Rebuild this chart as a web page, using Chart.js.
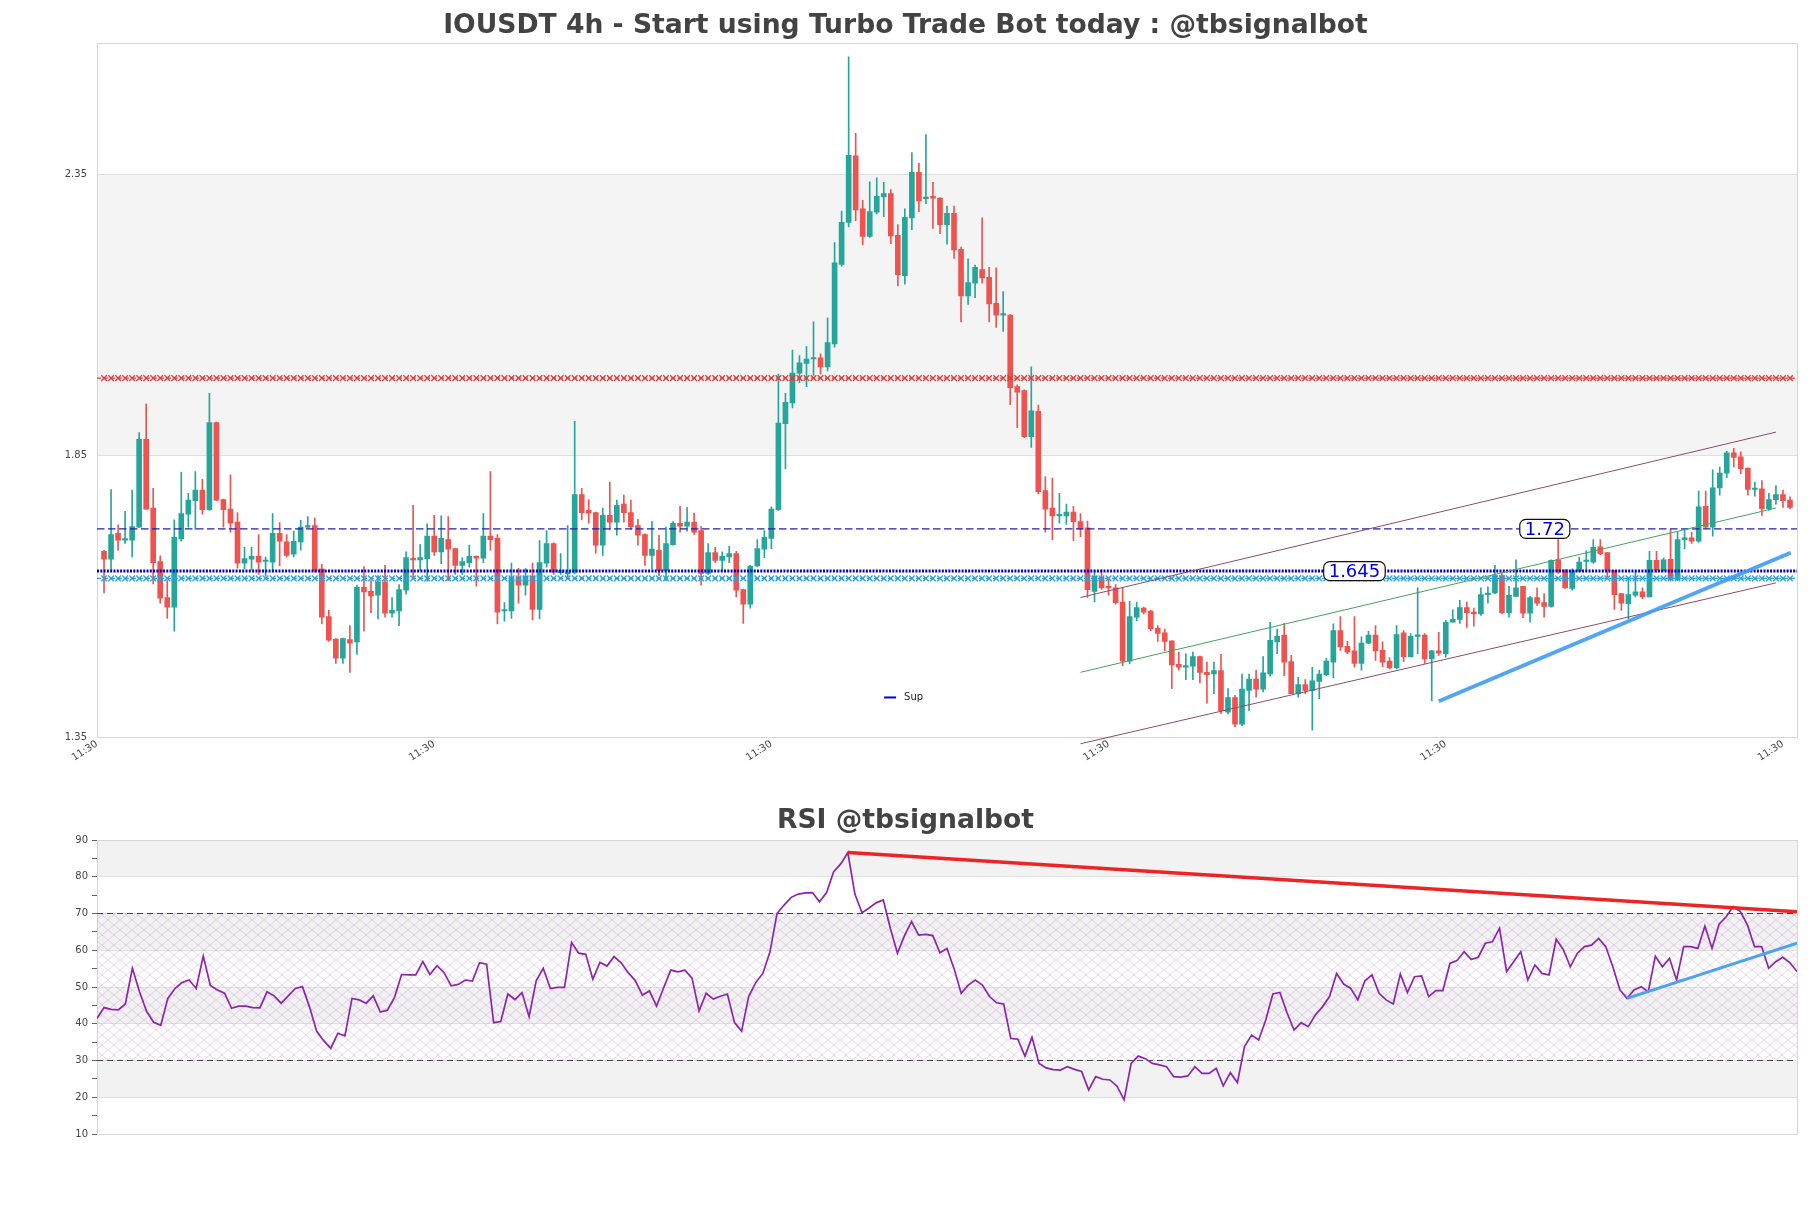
<!DOCTYPE html>
<html>
<head>
<meta charset="utf-8">
<script src="https://cdn.jsdelivr.net/npm/chart.js@4.4.0/dist/chart.umd.min.js"></script>
<style>
html,body{margin:0;padding:0;background:#fff;}
#wrap{position:relative;width:1811px;height:1208px;}
#pricebox{position:absolute;left:0;top:0;}
#rsibox{position:absolute;left:0;top:790px;}
</style>
</head>
<body>
<div id="wrap">
 <div id="pricebox"><canvas id="price" width="1811" height="800"></canvas></div>
 <div id="rsibox"><canvas id="rsi" width="1811" height="418"></canvas></div>
</div>
<script>
// 4h candles
const opens=[1.680,1.666,1.712,1.700,1.700,1.723,1.879,1.757,1.662,1.598,
 1.581,1.702,1.746,1.770,1.789,1.754,1.909,1.772,1.755,1.732,
 1.659,1.666,1.671,1.662,1.661,1.712,1.697,1.675,1.697,1.723,
 1.726,1.649,1.564,1.524,1.490,1.523,1.519,1.616,1.609,1.602,
 1.626,1.570,1.574,1.611,1.667,1.665,1.667,1.707,1.679,1.701,
 1.685,1.655,1.660,1.671,1.668,1.707,1.703,1.574,1.574,1.634,
 1.620,1.636,1.577,1.659,1.694,1.642,1.640,1.643,1.781,1.753,
 1.749,1.691,1.744,1.732,1.764,1.749,1.726,1.710,1.673,1.682,
 1.646,1.692,1.730,1.725,1.732,1.717,1.641,1.678,1.664,1.670,
 1.676,1.612,1.586,1.654,1.684,1.703,1.754,1.907,1.944,1.997,
 2.014,2.022,2.024,2.008,2.049,2.190,2.265,2.383,2.289,2.240,
 2.283,2.310,2.316,2.242,2.170,2.273,2.354,2.307,2.311,2.308,
 2.261,2.281,2.217,2.134,2.157,2.181,2.167,2.121,2.100,2.100,
 1.973,1.966,1.884,1.929,1.788,1.757,1.743,1.743,1.750,1.733,
 1.722,1.609,1.634,1.616,1.615,1.590,1.485,1.563,1.579,1.574,
 1.543,1.535,1.521,1.479,1.474,1.476,1.493,1.465,1.462,1.468,
 1.394,1.420,1.373,1.433,1.453,1.435,1.462,1.519,1.531,1.484,
 1.427,1.443,1.433,1.449,1.461,1.483,1.539,1.511,1.503,1.481,
 1.517,1.531,1.504,1.485,1.473,1.535,1.493,1.529,1.531,1.489,
 1.503,1.498,1.554,1.559,1.580,1.572,1.569,1.603,1.606,1.637,
 1.571,1.600,1.618,1.570,1.598,1.589,1.582,1.665,1.647,1.614,
 1.645,1.662,1.661,1.688,1.678,1.646,1.605,1.587,1.602,1.608,
 1.599,1.664,1.646,1.666,1.630,1.701,1.704,1.698,1.760,1.723,
 1.793,1.819,1.855,1.848,1.828,1.790,1.791,1.756,1.772,1.781,
 1.771];
const highs=[1.682,1.790,1.727,1.751,1.789,1.891,1.942,1.792,1.672,1.628,
 1.736,1.821,1.783,1.822,1.808,1.961,1.910,1.773,1.816,1.749,
 1.687,1.687,1.710,1.670,1.747,1.731,1.710,1.716,1.735,1.742,
 1.739,1.657,1.575,1.525,1.526,1.548,1.620,1.653,1.628,1.637,
 1.655,1.598,1.621,1.679,1.762,1.692,1.729,1.744,1.743,1.742,
 1.686,1.669,1.691,1.672,1.747,1.822,1.710,1.589,1.659,1.650,
 1.650,1.659,1.699,1.717,1.695,1.676,1.726,1.911,1.792,1.772,
 1.750,1.757,1.803,1.771,1.780,1.771,1.737,1.711,1.733,1.709,
 1.723,1.733,1.760,1.758,1.748,1.724,1.694,1.687,1.679,1.689,
 1.680,1.613,1.655,1.701,1.717,1.759,1.995,1.961,2.038,2.028,
 2.044,2.088,2.031,2.095,2.229,2.285,2.559,2.423,2.304,2.337,
 2.344,2.336,2.323,2.261,2.289,2.389,2.370,2.421,2.336,2.309,
 2.294,2.294,2.221,2.200,2.189,2.273,2.185,2.184,2.142,2.101,
 1.976,1.967,2.008,1.940,1.813,1.810,1.783,1.764,1.760,1.747,
 1.734,1.646,1.647,1.630,1.621,1.615,1.591,1.590,1.581,1.575,
 1.548,1.542,1.521,1.501,1.498,1.501,1.494,1.483,1.483,1.497,
 1.436,1.424,1.462,1.462,1.469,1.493,1.554,1.542,1.552,1.495,
 1.456,1.452,1.474,1.469,1.490,1.551,1.564,1.520,1.564,1.528,
 1.538,1.548,1.519,1.491,1.548,1.539,1.534,1.615,1.534,1.504,
 1.536,1.558,1.576,1.593,1.590,1.579,1.615,1.617,1.655,1.641,
 1.618,1.665,1.618,1.600,1.615,1.605,1.665,1.701,1.647,1.649,
 1.670,1.681,1.701,1.701,1.678,1.646,1.605,1.634,1.643,1.615,
 1.680,1.680,1.668,1.719,1.714,1.719,1.714,1.787,1.787,1.825,
 1.830,1.858,1.863,1.857,1.828,1.803,1.806,1.783,1.797,1.789,
 1.777];
const lows=[1.606,1.646,1.682,1.694,1.670,1.722,1.755,1.622,1.588,1.561,
 1.538,1.698,1.723,1.719,1.746,1.753,1.770,1.723,1.714,1.650,
 1.649,1.647,1.639,1.636,1.646,1.654,1.670,1.670,1.682,1.722,
 1.643,1.551,1.520,1.481,1.481,1.465,1.497,1.538,1.571,1.560,
 1.563,1.563,1.548,1.604,1.633,1.646,1.627,1.673,1.658,1.628,
 1.639,1.639,1.652,1.618,1.660,1.682,1.551,1.556,1.561,1.588,
 1.602,1.558,1.560,1.652,1.639,1.639,1.633,1.640,1.736,1.730,
 1.677,1.673,1.718,1.709,1.732,1.719,1.691,1.655,1.649,1.637,
 1.628,1.691,1.714,1.716,1.710,1.620,1.639,1.660,1.646,1.660,
 1.599,1.552,1.579,1.653,1.669,1.685,1.753,1.827,1.935,1.980,
 1.973,1.993,1.995,2.001,2.043,2.187,2.257,2.268,2.225,2.238,
 2.280,2.275,2.227,2.152,2.155,2.252,2.284,2.298,2.254,2.245,
 2.226,2.201,2.088,2.119,2.131,2.157,2.088,2.078,2.071,1.941,
 1.900,1.882,1.865,1.782,1.714,1.701,1.730,1.728,1.699,1.706,
 1.598,1.590,1.613,1.602,1.586,1.477,1.480,1.557,1.569,1.539,
 1.520,1.503,1.436,1.469,1.452,1.452,1.446,1.410,1.427,1.392,
 1.391,1.368,1.370,1.397,1.421,1.430,1.458,1.498,1.459,1.427,
 1.421,1.427,1.362,1.418,1.459,1.455,1.504,1.498,1.474,1.469,
 1.516,1.486,1.475,1.471,1.471,1.484,1.492,1.498,1.481,1.414,
 1.495,1.492,1.554,1.552,1.545,1.547,1.566,1.588,1.605,1.569,
 1.563,1.599,1.562,1.554,1.584,1.563,1.581,1.641,1.614,1.611,
 1.643,1.646,1.659,1.674,1.634,1.577,1.575,1.560,1.599,1.596,
 1.599,1.643,1.645,1.627,1.628,1.685,1.694,1.696,1.721,1.707,
 1.780,1.811,1.830,1.818,1.780,1.778,1.744,1.753,1.764,1.758,
 1.756];
const closes=[1.666,1.710,1.700,1.701,1.724,1.879,1.755,1.660,1.597,1.581,
 1.705,1.747,1.771,1.789,1.754,1.909,1.771,1.754,1.730,1.659,
 1.667,1.671,1.661,1.662,1.712,1.698,1.673,1.698,1.723,1.725,
 1.646,1.563,1.522,1.490,1.525,1.517,1.616,1.608,1.601,1.626,
 1.570,1.575,1.612,1.669,1.665,1.669,1.707,1.679,1.703,1.684,
 1.655,1.662,1.671,1.668,1.707,1.701,1.572,1.575,1.634,1.620,
 1.636,1.577,1.660,1.694,1.643,1.646,1.641,1.781,1.749,1.748,
 1.691,1.744,1.732,1.762,1.749,1.724,1.709,1.673,1.684,1.646,
 1.694,1.730,1.725,1.732,1.714,1.641,1.678,1.664,1.671,1.676,
 1.611,1.586,1.654,1.685,1.705,1.755,1.908,1.945,1.997,2.015,
 2.022,2.024,2.008,2.051,2.193,2.265,2.384,2.287,2.240,2.284,
 2.311,2.316,2.241,2.172,2.274,2.354,2.303,2.310,2.308,2.261,
 2.281,2.216,2.134,2.158,2.185,2.166,2.120,2.100,2.101,1.971,
 1.963,1.884,1.930,1.786,1.755,1.743,1.744,1.750,1.733,1.720,
 1.612,1.636,1.615,1.615,1.589,1.485,1.564,1.580,1.572,1.542,
 1.534,1.520,1.478,1.474,1.477,1.493,1.465,1.461,1.468,1.397,
 1.420,1.373,1.435,1.453,1.435,1.464,1.522,1.529,1.483,1.427,
 1.443,1.433,1.450,1.462,1.485,1.539,1.510,1.501,1.481,1.517,
 1.531,1.503,1.483,1.473,1.532,1.493,1.529,1.530,1.489,1.503,
 1.499,1.554,1.559,1.580,1.571,1.569,1.603,1.606,1.637,1.571,
 1.602,1.615,1.570,1.598,1.588,1.582,1.664,1.645,1.615,1.646,
 1.661,1.663,1.687,1.676,1.646,1.603,1.588,1.603,1.608,1.599,
 1.664,1.647,1.665,1.630,1.701,1.704,1.698,1.759,1.723,1.793,
 1.819,1.855,1.847,1.827,1.790,1.791,1.756,1.772,1.781,1.770,
 1.758];
const rsiValues=[41.5,44.4,43.9,43.8,45.4,55.1,48.7,43.4,40.4,39.6,
 46.9,49.6,51.2,51.9,49.6,58.4,50.4,49.2,48.3,44.2,
 44.8,44.8,44.4,44.3,48.7,47.6,45.6,47.6,49.6,50.1,
 44.6,38.0,35.4,33.3,37.4,36.7,46.9,46.5,45.6,47.6,
 43.2,43.7,47.2,53.4,53.3,53.3,56.9,53.4,55.8,53.9,
 50.3,50.7,51.9,51.6,56.6,56.2,40.3,40.6,48.1,46.6,
 48.5,41.9,51.7,55.1,49.6,49.9,49.9,62.1,59.2,58.9,
 52.1,56.7,55.7,58.3,56.6,53.9,51.7,47.8,48.9,44.8,
 49.8,54.6,54.1,54.6,52.4,43.5,48.3,46.7,47.5,48.1,
 40.3,38.0,47.4,51.2,53.7,59.5,70.0,72.3,74.4,75.3,
 75.6,75.7,73.2,75.7,81.4,83.5,86.6,75.3,70.2,71.5,
 72.9,73.7,66.0,59.2,64.0,67.8,64.1,64.3,64.0,59.3,
 60.5,55.0,48.3,50.5,51.9,50.5,47.4,45.7,45.4,36.0,
 35.8,31.2,36.3,29.2,28.0,27.5,27.4,28.3,27.6,27.0,
 22.0,25.6,24.9,24.7,23.0,19.3,29.2,31.2,30.5,29.2,
 28.8,28.3,25.6,25.5,25.8,28.3,26.5,26.5,27.9,23.1,
 26.7,24.0,33.8,36.9,35.6,41.0,48.1,48.5,43.0,38.3,
 40.3,39.2,42.4,44.6,47.4,53.7,50.8,49.6,46.5,51.7,
 53.3,48.3,46.5,45.4,53.5,48.5,52.8,53.0,47.4,49.0,
 49.0,56.4,57.2,59.6,57.5,58.1,61.9,62.3,66.0,54.2,
 56.9,59.6,51.9,56.0,53.7,53.3,63.0,60.2,55.5,59.2,
 61.0,61.4,63.2,61.0,55.5,49.2,46.9,49.2,50.1,48.7,
 58.4,55.5,57.8,51.9,61.0,61.0,60.5,66.6,60.5,67.1,
 69.1,71.9,70.5,66.9,61.0,61.0,55.1,56.9,58.1,56.6,
 54.2];

const tickIdx=[-1,47,95,143,191,239];
const tickLabel='11:30';
const priceTicks=[1.35,1.85,2.35];
const resistance=1.988, pivotLevel=1.72, supLevel=1.645, supZone=1.632;
const chanX=[139,238];
const chanUpper=[1.598,1.892], chanMid=[1.465,1.757], chanLower=[1.338,1.624];
const trendX=[190,240.1], trendY=[1.4135,1.6776];
const rsiRedX=[106,240], rsiRedY=[86.6,70.5];
const rsiBlueX=[216,240], rsiBlueY=[46.9,61.9];

const UP='#26a69a', DOWN='#ef5350';
Chart.defaults.font.family='DejaVu Sans';
Chart.defaults.color='#444';

const N=opens.length;
const idx=opens.map((_,i)=>i);
const candleColor=c=>closes[c.dataIndex]>=opens[c.dataIndex]?UP:DOWN;
const seg=(xs,ys)=>xs.map((x,k)=>({x,y:ys[k]}));
const flat=v=>[{x:-1,y:v},{x:N,y:v}];

const bandPlugin={
 id:'bands',
 beforeDraw(chart,args,o){
  const {ctx,chartArea:a,scales:{y}}=chart;
  ctx.save();ctx.fillStyle=o.color;
  o.ranges.forEach(([lo,hi])=>{
   const t=y.getPixelForValue(hi),b=y.getPixelForValue(lo);
   ctx.fillRect(a.left,t,a.right-a.left,b-t);
  });
  ctx.restore();
 }
};
const framePlugin={
 id:'frame',
 beforeDatasetsDraw(chart){
  const {ctx,chartArea:a}=chart;
  ctx.save();ctx.strokeStyle='#d6d6d6';ctx.lineWidth=1;
  ctx.strokeRect(Math.round(a.left)+0.5,Math.round(a.top)+0.5,Math.round(a.right-a.left),Math.round(a.bottom-a.top));
  ctx.restore();
 }
};
const tagPlugin={
 id:'tags',
 afterDatasetsDraw(chart,args,o){
  if(!o.items)return;
  const {ctx,scales:{x,y}}=chart;
  ctx.save();ctx.font=o.font;ctx.textAlign='center';ctx.textBaseline='middle';
  o.items.forEach(t=>{
   const px=x.getPixelForValue(t.x),py=y.getPixelForValue(t.y);
   const w=ctx.measureText(t.text).width+10,h=19;
   ctx.beginPath();ctx.roundRect(px-w/2,py-h/2,w,h,6);
   ctx.fillStyle='#fff';ctx.fill();
   ctx.lineWidth=1.2;ctx.strokeStyle='#111';ctx.stroke();
   ctx.fillStyle=o.color;ctx.fillText(t.text,px,py+1);
  });
  ctx.restore();
 }
};
const keyPlugin={
 id:'key',
 afterDatasetsDraw(chart,args,o){
  if(!o.text)return;
  const {ctx,chartArea:a}=chart;
  const px=a.left+o.at[0]*(a.right-a.left),py=a.top+o.at[1]*(a.bottom-a.top);
  ctx.save();
  ctx.strokeStyle=o.color;ctx.lineWidth=2;
  ctx.beginPath();ctx.moveTo(px,py);ctx.lineTo(px+12,py);ctx.stroke();
  ctx.fillStyle='#222';ctx.font='10px DejaVu Sans';ctx.textBaseline='middle';
  ctx.fillText(o.text,px+20,py);
  ctx.restore();
 }
};

new Chart(document.getElementById('price'),{
 type:'bar',
 data:{datasets:[
  {type:'line',data:flat(resistance),borderColor:'#e23b3b',borderWidth:1.3,borderDash:[4,3],pointRadius:0,order:3},
  {type:'line',data:idx.map(i=>({x:i,y:resistance})),showLine:false,pointStyle:'crossRot',pointRadius:4,pointBorderWidth:1.3,pointBorderColor:'#e23b3b',pointBackgroundColor:'rgba(0,0,0,0)',order:3},
  {type:'line',data:flat(supZone),borderColor:'#2a9fe0',borderWidth:1.3,borderDash:[4,3],pointRadius:0,order:3},
  {type:'line',data:idx.map(i=>({x:i,y:supZone})),showLine:false,pointStyle:'crossRot',pointRadius:4,pointBorderWidth:1.3,pointBorderColor:'#2a9fe0',pointBackgroundColor:'rgba(0,0,0,0)',order:3},
  {type:'line',label:'Sup',data:flat(supLevel),borderColor:'#0000cc',borderWidth:3,borderDash:[2,1.3],pointRadius:0,order:3},
  {type:'line',data:flat(pivotLevel),borderColor:'#2020a8',borderWidth:1.3,borderDash:[7.5,3.5],pointRadius:0,order:3},
  {type:'line',data:seg(chanX,chanUpper),borderColor:'#8b4c6b',borderWidth:1,pointRadius:0,clip:false,order:2},
  {type:'line',data:seg(chanX,chanMid),borderColor:'#48a060',borderWidth:1,pointRadius:0,clip:false,order:2},
  {type:'line',data:seg(chanX,chanLower),borderColor:'#8b4c6b',borderWidth:1,pointRadius:0,clip:false,order:2},
  {type:'line',data:seg(trendX,trendY),borderColor:'rgba(62,155,245,0.9)',borderWidth:4,pointRadius:0,order:1},
  {type:'bar',data:idx.map(i=>({x:i,y:[lows[i],highs[i]]})),backgroundColor:candleColor,barThickness:1,grouped:false,order:5},
  {type:'bar',data:idx.map(i=>({x:i,y:[opens[i],closes[i]]})),backgroundColor:candleColor,barThickness:5,minBarLength:1.5,grouped:false,order:4}
 ]},
 options:{
  responsive:false,animation:false,
  layout:{padding:{left:14,right:14,top:0,bottom:0}},
  plugins:{
   legend:{display:false},tooltip:{enabled:false},
   title:{display:true,text:'IOUSDT 4h - Start using Turbo Trade Bot today : @tbsignalbot',color:'#434343',
    font:{size:26.6,weight:'bold'},padding:{top:10.5,bottom:1}},
   bands:{color:'#f4f4f4',ranges:[[1.85,2.35]]},
   tags:{font:'18px DejaVu Sans',color:'#0000dd',items:[{x:205.1,y:pivotLevel,text:'1.72'},{x:178,y:supLevel,text:'1.645'}]},
   key:{text:'Sup',color:'#0000cc',at:[0.463,0.943]}
  },
  scales:{
   x:{type:'linear',min:-1,max:N,offset:false,
    grid:{display:false,drawTicks:false,offset:false},border:{display:false},
    afterBuildTicks:s=>{s.ticks=tickIdx.map(v=>({value:v}));},
    afterFit:s=>{s.height=63;},
    ticks:{autoSkip:false,minRotation:33,maxRotation:33,padding:1,font:{size:10},color:'#444',callback:()=>tickLabel}},
   y:{type:'linear',min:1.35,max:2.583,
    grid:{color:'#e0e0e0',drawTicks:false},border:{display:false},
    afterBuildTicks:s=>{s.ticks=priceTicks.map(v=>({value:v}));},
    afterFit:s=>{s.width=83;},
    ticks:{padding:10,font:{size:10},color:'#444',callback:v=>Number(v).toFixed(2)}}
  }
 },
 plugins:[bandPlugin,framePlugin,tagPlugin,keyPlugin]
});

// hatch for the 30-70 zone
const tile=document.createElement('canvas');tile.width=12;tile.height=10;
const tc=tile.getContext('2d');
tc.strokeStyle='rgba(190,140,205,0.5)';tc.lineWidth=0.7;
tc.beginPath();tc.moveTo(0,0);tc.lineTo(12,10);tc.moveTo(12,0);tc.lineTo(0,10);tc.stroke();
const rsiCanvas=document.getElementById('rsi');
const hatch=rsiCanvas.getContext('2d').createPattern(tile,'repeat');

new Chart(rsiCanvas,{
 type:'line',
 data:{datasets:[
  {data:rsiValues.map((v,i)=>({x:i,y:v})),borderColor:'#8e24aa',borderWidth:1.7,pointRadius:0,order:2},
  {data:[{x:0,y:70},{x:N-1,y:70}],borderColor:'#444',borderWidth:1.2,borderDash:[6,4],pointRadius:0,fill:{value:30},backgroundColor:hatch,order:5},
  {data:[{x:0,y:30},{x:N-1,y:30}],borderColor:'#444',borderWidth:1.2,borderDash:[6,4],pointRadius:0,order:5},
  {data:seg(rsiRedX,rsiRedY),borderColor:'#ee2424',borderWidth:3.5,pointRadius:0,order:1},
  {data:seg(rsiBlueX,rsiBlueY),borderColor:'#4aa3f2',borderWidth:3,pointRadius:0,order:1}
 ]},
 options:{
  responsive:false,animation:false,
  layout:{padding:{left:14,right:14,top:0,bottom:74}},
  plugins:{
   legend:{display:false},tooltip:{enabled:false},
   title:{display:true,text:'RSI @tbsignalbot',color:'#434343',font:{size:26.6,weight:'bold'},padding:{top:15.5,bottom:2.6}},
   bands:{color:'#f2f2f2',ranges:[[80,90],[60,70],[40,50],[20,30]]}
  },
  scales:{
   x:{type:'linear',min:0,max:N-1,display:false},
   y:{type:'linear',min:10,max:90,
    border:{display:false},
    grid:{color:c=>c.tick&&c.tick.value%10===0?'#e0e0e0':'rgba(0,0,0,0)',tickColor:'#666',tickLength:5},
    afterFit:s=>{s.width=83;},
    ticks:{stepSize:5,padding:4,font:{size:10},color:'#444',callback:v=>v%10===0?v:''}}
  }
 },
 plugins:[bandPlugin,framePlugin]
});
</script>
</body>
</html>
